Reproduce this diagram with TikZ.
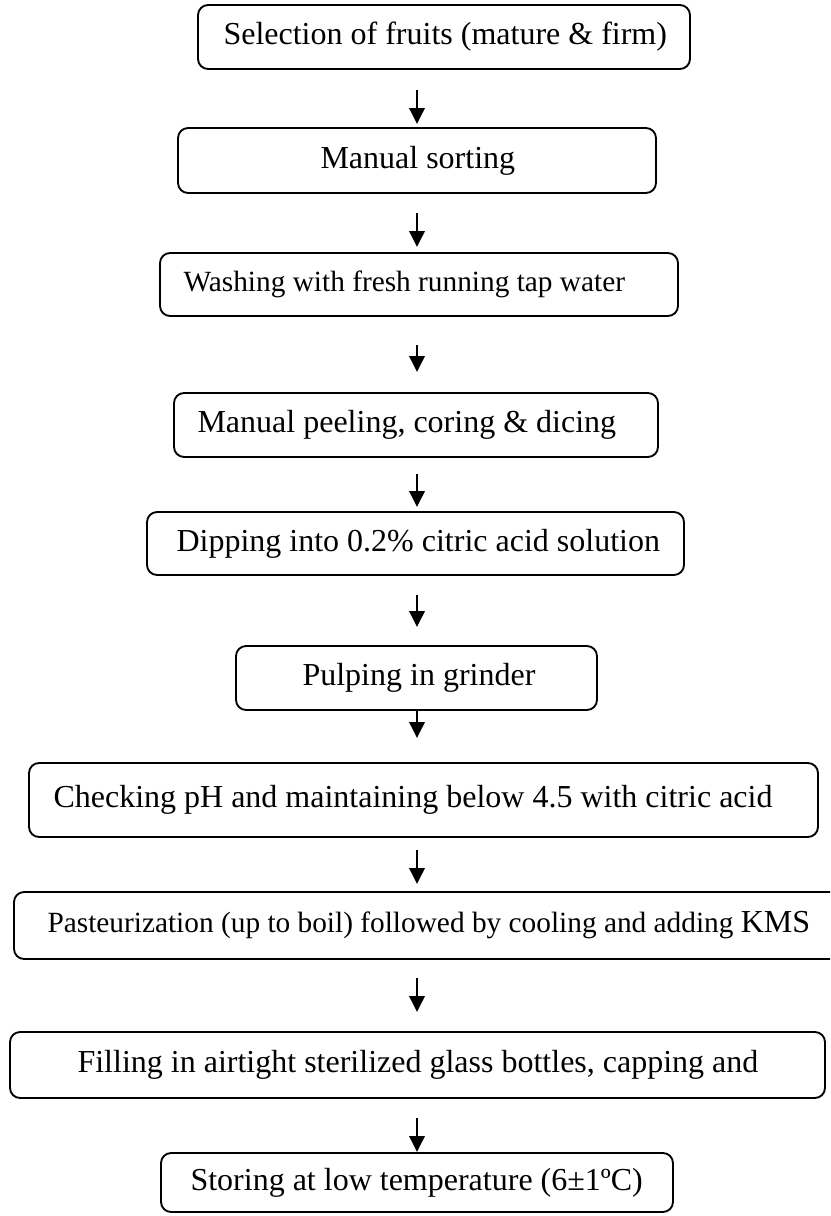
\documentclass[tikz,border=0pt]{standalone}
\usepackage{fontspec}
\setmainfont{Liberation Serif}
\usetikzlibrary{arrows.meta}
\def\PX{0.375pt}
\tikzset{
  box/.style={draw, rounded corners=3.8pt, line width=0.7pt, inner sep=0pt, outer sep=0pt},
  lbl/.style={anchor=west, inner sep=0pt, font=\fontsize{12}{14}\selectfont},
  arr/.style={-{Triangle[width=5.8pt,length=6pt]}, line width=0.75pt},
}
\newcommand\flowbox[5]{\node[box, minimum width={(#3-#2)*\PX}, minimum height={(#5-#4)*\PX}] (#1) at ({(#2+#3)/2},{(#4+#5)/2}) {};}
\begin{document}
\begin{tikzpicture}[x=0.375pt,y=-0.375pt]
\clip (0,0) rectangle (830,1216);
\coordinate (ax) at (417,0);
\flowbox{b1}{198}{690}{5}{69}
\flowbox{b2}{178}{656}{128}{193}
\flowbox{b3}{160}{678}{253}{316}
\flowbox{b4}{174}{658}{393}{457}
\flowbox{b5}{147}{684}{512}{575}
\flowbox{b6}{236}{597}{646}{710}
\flowbox{b7}{29}{818}{763}{837}
\flowbox{b8}{14}{845}{892}{959}
\flowbox{b9}{10}{825}{1032}{1098}
\flowbox{b10}{161}{673}{1153}{1212}
\node[lbl] (t1) at (223,37) {Selection of fruits (mature \& firm)};
\node[lbl] (t2) at (320,160.5) {Manual sorting};
\node[lbl, font=\fontsize{11}{13}\selectfont] (t3) at (183,284.5) {Washing with fresh running tap water};
\node[lbl] (t4) at (197,425) {Manual peeling, coring \& dicing};
\node[lbl] (t5) at (176,543.5) {Dipping into 0.2\% citric acid solution};
\node[lbl] (t6) at (302,678) {Pulping in grinder};
\node[lbl] (t7) at (53,800) {Checking pH and maintaining below 4.5 with citric acid};
\node[lbl] (t8) at (47,925.5) {{\fontsize{11}{13}\selectfont Pasteurization (up to boil) followed by cooling and adding }KMS};
\node[lbl] (t9) at (77,1065) {Filling in airtight sterilized glass bottles, capping and};
\node[lbl] (t10) at (190,1182.5) {Storing at low temperature (6±1ºC)};
\draw[arr, shorten <=21*\PX, shorten >=4*\PX] (b1.south -| ax) -- (b2.north -| ax);
\draw[arr, shorten <=20*\PX, shorten >=6*\PX] (b2.south -| ax) -- (b3.north -| ax);
\draw[arr, shorten <=29*\PX, shorten >=21*\PX] (b3.south -| ax) -- (b4.north -| ax);
\draw[arr, shorten <=17*\PX, shorten >=5*\PX] (b4.south -| ax) -- (b5.north -| ax);
\draw[arr, shorten <=20*\PX, shorten >=19*\PX] (b5.south -| ax) -- (b6.north -| ax);
\draw[arr, shorten <=0*\PX, shorten >=25*\PX] (b6.south -| ax) -- (b7.north -| ax);
\draw[arr, shorten <=13*\PX, shorten >=8*\PX] (b7.south -| ax) -- (b8.north -| ax);
\draw[arr, shorten <=19*\PX, shorten >=20*\PX] (b8.south -| ax) -- (b9.north -| ax);
\draw[arr, shorten <=20*\PX, shorten >=1*\PX] (b9.south -| ax) -- (b10.north -| ax);
\end{tikzpicture}
\end{document}
